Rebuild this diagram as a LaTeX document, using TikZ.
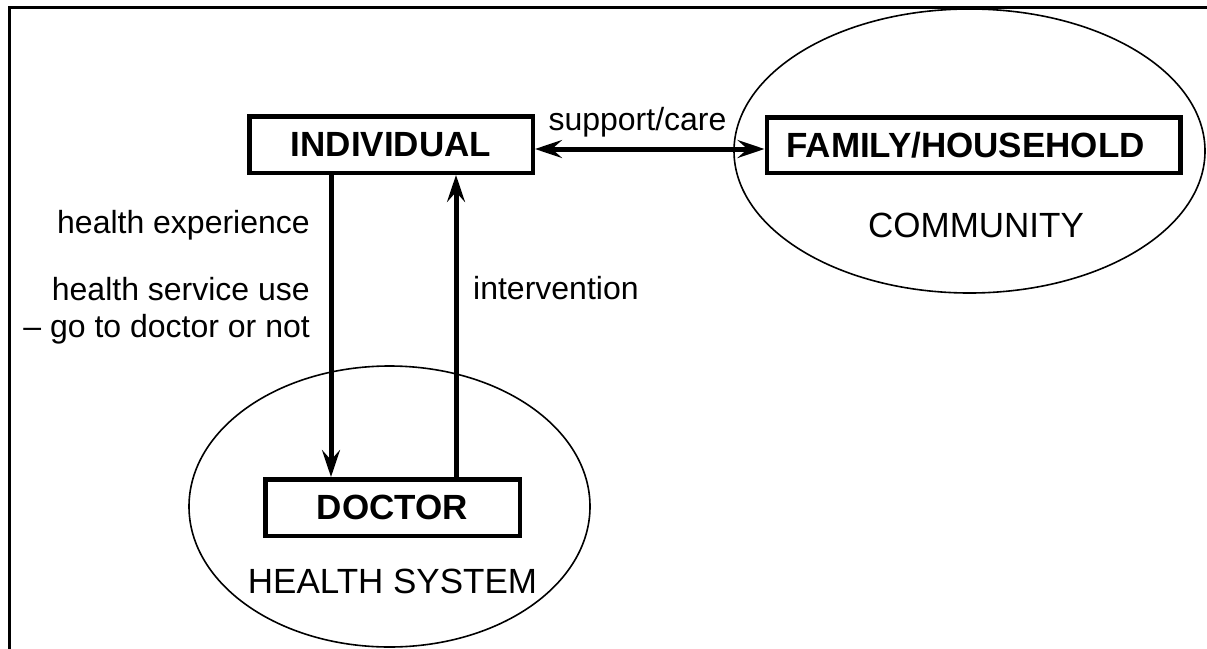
\documentclass[tikz,border=0pt]{standalone}
\usepackage{fontspec}
\setmainfont{Liberation Sans}
\usetikzlibrary{arrows.meta}
\begin{document}
\begin{tikzpicture}[x=1pt,y=-1pt,
  box/.style={draw, line width=4.5pt, inner sep=0pt, font=\fontsize{35}{40}\selectfont\bfseries},
  title/.style={font=\fontsize{35}{40}\selectfont, inner sep=0pt},
  lab/.style={font=\fontsize{32}{37}\selectfont, inner sep=0pt},
  tip/.style={Stealth[length=27pt,width=18pt,inset=10pt]},
  flow/.style={line width=5pt, -{Stealth[length=27pt,width=18pt,inset=10pt]}},
  both/.style={line width=5pt, {Stealth[length=27pt,width=18pt,inset=10pt]}-{Stealth[length=27pt,width=18pt,inset=10pt]}},
  ring/.style={line width=1.6pt}]
\useasboundingbox (0,0) rectangle (1207,648);
\fill[white] (0,0) rectangle (1207,648);
% frame
\draw[line width=2.5pt] (9.5,650) -- (9.5,7.5) -- (1210,7.5);
% ellipses
\draw[ring] (969.5,151) ellipse [x radius=235.5pt, y radius=142pt];
\draw[ring] (389.5,506.5) ellipse [x radius=200.5pt, y radius=140.5pt];
% boxes
\node[box, minimum width=283.5pt, minimum height=56.5pt] (ind) at (391,144.5) {INDIVIDUAL};
\node[box, minimum width=413.5pt, minimum height=55.5pt] (fam) at (973.5,145) {FAMILY/HOUSEHOLD\hspace*{16pt}};
\node[box, minimum width=254.5pt, minimum height=56.5pt] (doc) at (392.5,507.5) {DOCTOR};
% connectors
\draw[flow] (331,0 |- ind.south) -- (331,0 |- doc.north);
\draw[flow] (456,0 |- doc.north) -- (456,0 |- ind.south);
\draw[both] (ind.east |- 0,149) -- (fam.west |- 0,149);
% labels
\node[lab, anchor=base] (sc) at (637.5,130) {support/care};
\node[lab, anchor=base east] (he) at (310,233) {health experience};
\node[lab, anchor=base east] (hsu) at (310,300) {health service use};
\node[lab, anchor=base east] (go) at (310,337.5) {– go to doctor or not};
\node[lab, anchor=base west] (int) at (473,299) {intervention};
\node[title, anchor=base] (com) at (976,237) {COMMUNITY};
\node[title, anchor=base] (hs) at (392.5,593) {HEALTH SYSTEM};
\end{tikzpicture}
\end{document}
